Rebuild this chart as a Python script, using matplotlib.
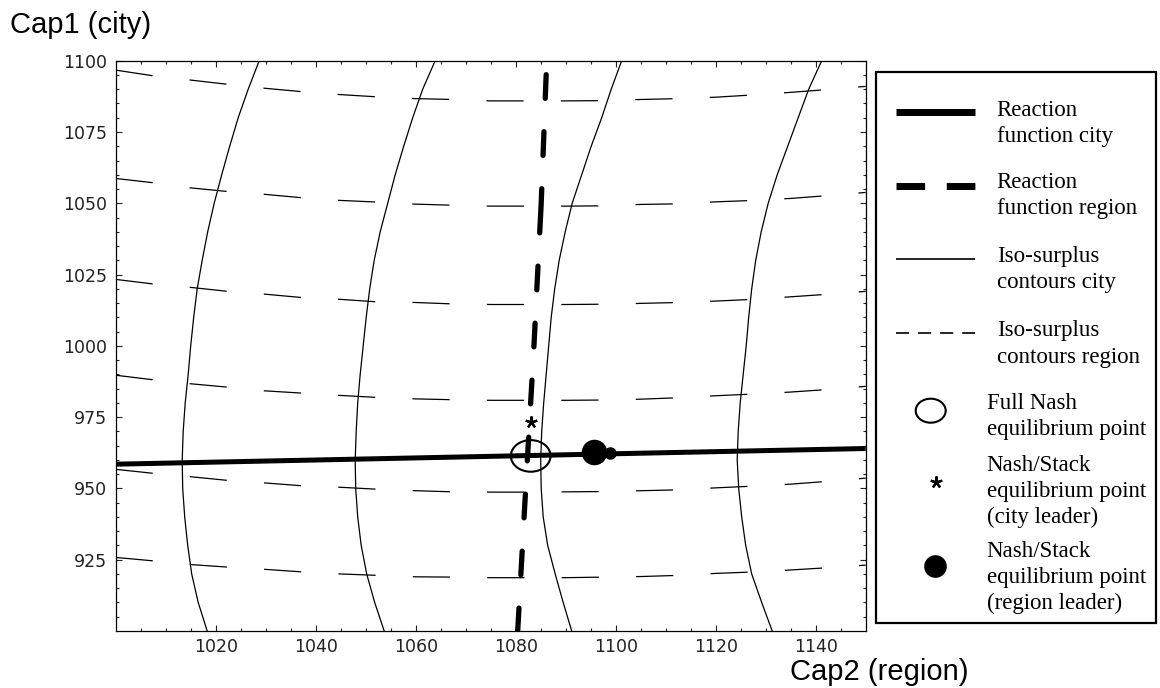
import matplotlib
matplotlib.use("Agg")
import matplotlib.pyplot as plt
from matplotlib.patches import Ellipse, Rectangle

plt.rcParams['lines.scale_dashes'] = False
plt.rcParams['font.family'] = ['DejaVu Sans']

# ---------------- data (Cap2 = x, Cap1 = y) ----------------
city_reaction_cap2 = [1000, 1150]
city_reaction_cap1 = [958.5, 964.0]

region_reaction_cap1 = [900, 950, 1000, 1050, 1100]
region_reaction_cap2 = [1080.4, 1082.0, 1083.65, 1085.1, 1086.2]

# iso-surplus contours of the city (solid thin), read at Cap1 levels
city_c_cap1 = [1100, 1090, 1080, 1070, 1060, 1050, 1040, 1030, 1020, 1010, 1000,
               990, 980, 970, 960, 950, 940, 930, 920, 910, 900]
city_c1_cap2 = [1028.7, 1026.5, 1024.5, 1022.8, 1021.2, 1019.7, 1018.4, 1017.3, 1016.3, 1015.6, 1015.0,
                1014.5, 1013.9, 1013.5, 1013.3, 1013.4, 1013.8, 1014.4, 1015.2, 1016.5, 1018.3]
city_c2_cap2 = [1063.9, 1061.4, 1059.4, 1057.6, 1055.9, 1054.4, 1052.9, 1051.7, 1050.8, 1050.1, 1049.5,
                1048.9, 1048.4, 1048.1, 1047.9, 1048.0, 1048.4, 1049.1, 1050.2, 1051.8, 1053.7]
city_c3_cap2 = [1101.2, 1099.1, 1097.2, 1095.1, 1093.2, 1091.3, 1089.9, 1088.7, 1087.8, 1087.1, 1086.6,
                1086.1, 1085.6, 1085.2, 1085.0, 1085.1, 1085.5, 1086.4, 1087.9, 1089.5, 1091.2]
city_c4_cap2 = [1141.2, 1138.6, 1136.5, 1134.4, 1132.3, 1130.5, 1129.1, 1128.0, 1127.2, 1126.6, 1126.1,
                1125.5, 1124.9, 1124.5, 1124.3, 1124.6, 1125.2, 1126.0, 1127.2, 1129.2, 1131.3]

# iso-surplus contours of the region (dashed thin), read at Cap2 positions
region_c_cap2 = [1000, 1007.5, 1015, 1022.5, 1030, 1037.5, 1045, 1052.5, 1060, 1067.5, 1075,
                 1082.5, 1090, 1097.5, 1105, 1112.5, 1120, 1127.5, 1135, 1142.5, 1150]
region_c1_cap1 = [1096.7, 1094.7, 1093.2, 1091.7, 1090.3, 1089.1, 1088.1, 1087.3, 1086.7, 1086.4,
                  1085.9, 1085.9, 1085.9, 1086.0, 1086.4, 1086.7, 1087.2, 1088.0, 1088.9, 1089.9, 1091.0]
region_c2_cap1 = [1058.7, 1057.2, 1055.4, 1054.1, 1053.1, 1051.9, 1051.0, 1050.4, 1049.7, 1049.3,
                  1049.0, 1049.0, 1049.0, 1049.1, 1049.6, 1049.8, 1050.5, 1051.0, 1051.7, 1052.7, 1053.8]
region_c3_cap1 = [1023.3, 1021.7, 1020.5, 1019.1, 1018.1, 1016.9, 1016.3, 1015.4, 1015.2, 1014.7,
                  1014.5, 1014.5, 1014.5, 1014.6, 1014.9, 1015.2, 1015.7, 1016.3, 1017.2, 1018.1, 1019.1]
region_c4_cap1 = [989.7, 988.1, 986.7, 985.5, 984.2, 983.4, 982.6, 981.9, 981.4, 981.1,
                  980.9, 980.9, 980.9, 981.0, 981.3, 981.8, 982.5, 983.1, 983.8, 984.7, 985.8]
region_c5_cap1 = [956.7, 955.3, 954.1, 952.8, 951.9, 950.9, 950.4, 949.7, 949.2, 948.8,
                  948.7, 948.7, 948.8, 948.9, 949.2, 949.5, 950.2, 950.8, 951.5, 952.5, 953.6]
region_c6_cap1 = [925.8, 924.6, 923.3, 922.4, 921.6, 920.7, 920.0, 919.5, 919.0, 918.9,
                  918.7, 918.7, 918.7, 918.9, 919.1, 919.5, 920.2, 920.7, 921.4, 922.2, 923.1]

full_nash_cap2, full_nash_cap1 = 1083.0, 961.4
city_leader_cap2, city_leader_cap1 = 1083.1, 973.4
region_leader_cap2 = [1095.6, 1098.8]
region_leader_cap1 = [962.7, 962.4]

x_major = [1020, 1040, 1060, 1080, 1100, 1120, 1140]
y_major = [925, 950, 975, 1000, 1025, 1050, 1075, 1100]

legend_labels = [
    ["Reaction", "function city"],
    ["Reaction", "function region"],
    ["Iso-surplus", "contours city"],
    ["Iso-surplus", "contours region"],
    ["Full Nash", "equilibrium point"],
    ["Nash/Stack", "equilibrium point", "(city leader)"],
    ["Nash/Stack", "equilibrium point", "(region leader)"],
]

# ---------------- figure ----------------
W, H = 1160, 688
fig = plt.figure(figsize=(W / 100, H / 100), dpi=100)
ax = fig.add_axes([115.7 / W, 1 - 631 / H, (865.7 - 115.7) / W, (631 - 60.7) / H])

thin = 0.9
region_dash = (0, (26.8, 26.8))
for ys in [region_c1_cap1, region_c2_cap1, region_c3_cap1, region_c4_cap1, region_c5_cap1, region_c6_cap1]:
    ax.plot(region_c_cap2, ys, color='black', lw=thin, linestyle=region_dash,
            dash_capstyle='butt', zorder=2)

for xs in [city_c1_cap2, city_c2_cap2, city_c3_cap2, city_c4_cap2]:
    ax.plot(xs, city_c_cap1, color='black', lw=thin, zorder=2, solid_joinstyle='round')

ax.plot(city_reaction_cap2, city_reaction_cap1, color='black', lw=3.6,
        solid_capstyle='butt', zorder=3)

ax.add_patch(Ellipse((full_nash_cap2, full_nash_cap1), width=7.94, height=11.08,
                     fill=False, edgecolor='black', lw=1.5, zorder=4))

reg_dash = (0.6, [17.1, 24.0] * 7 + [31.8, 24.0] + [17.1, 24.0] * 3)
ax.plot(region_reaction_cap2, region_reaction_cap1, color='black', lw=3.8,
        linestyle=reg_dash, dash_capstyle='round', zorder=5)

ax.plot([city_leader_cap2], [city_leader_cap1], linestyle='none', marker=(5, 2, 0),
        ms=8.6, mew=1.6, color='black', zorder=6)
ax.plot(region_leader_cap2[:1], region_leader_cap1[:1], linestyle='none', marker='o',
        ms=18.4, color='black', mew=0, zorder=6)
ax.plot(region_leader_cap2[1:], region_leader_cap1[1:], linestyle='none', marker='o',
        ms=9.0, color='black', mew=0, zorder=6)

ax.set_xlim(1000, 1150)
ax.set_ylim(900, 1100)
ax.set_xticks(x_major)
ax.set_xticks(list(range(1005, 1150, 5)), minor=True)
ax.set_yticks(y_major)
ax.set_yticks(list(range(905, 1100, 5)), minor=True)
ax.tick_params(which='both', direction='in', top=True, right=True, width=0.8, color='#222222')
ax.tick_params(which='major', length=4.0)
ax.tick_params(which='minor', length=2.5)
ax.tick_params(axis='x', labelsize=12.5, pad=5, labelcolor='#222222')
ax.tick_params(axis='y', labelsize=12.5, pad=6, labelcolor='#222222')
for s in ax.spines.values():
    s.set_linewidth(0.9)

fig.text(10 / W, 1 - 32.7 / H, "Cap1 (city)", family='Liberation Sans', fontsize=21,
         va='baseline', ha='left')
fig.text(790 / W, 1 - 680 / H, "Cap2 (region)", family='Liberation Sans', fontsize=21,
         va='baseline', ha='left')

# ---------------- legend (drawn in pixel space) ----------------
lax = fig.add_axes([0, 0, 1, 1], zorder=10)
lax.set_xlim(0, W)
lax.set_ylim(H, 0)
lax.axis('off')
lax.patch.set_alpha(0)

lax.add_patch(Rectangle((875.7, 71.7), 1156 - 875.7, 623 - 71.7, fill=False,
                        edgecolor='black', lw=1.6))
lx0, lx1 = 895.7, 975
lax.plot([lx0, lx1], [112.3, 112.3], color='black', lw=5, solid_capstyle='butt')
lax.plot([lx0, lx1], [185.7, 185.7], color='black', lw=5, linestyle=(0, (20.6, 15.6)),
         dash_capstyle='butt')
lax.plot([lx0, lx1], [259, 259], color='black', lw=1.2, solid_capstyle='butt')
lax.plot([lx0, lx1], [332.7, 332.7], color='black', lw=1.2, linestyle=(0, (9.4, 6.5)),
         dash_capstyle='butt')
lax.add_patch(Ellipse((930.7, 410.7), width=30, height=24, fill=False, edgecolor='black', lw=1.5))
lax.plot([936], [481.7], linestyle='none', marker=(5, 2, 0), ms=8.6, mew=1.6, color='black')
lax.plot([935.3], [565.7], linestyle='none', marker='o', ms=16.3, mew=0, color='black')

baselines = [
    [115.7, 141.7],
    [188.3, 214.3],
    [262.3, 288.3],
    [336.0, 362.7],
    [409.3, 435.0],
    [470.7, 496.7, 523.3],
    [557.3, 583.3, 609.3],
]
text_x = [996.7, 996.7, 996.7, 996.7, 986.7, 986.7, 986.7]
for lines, bls, tx in zip(legend_labels, baselines, text_x):
    for t, b in zip(lines, bls):
        lax.text(tx, b, t, family='Liberation Serif', fontsize=16.5, va='baseline', ha='left')

fig.savefig("out.png", dpi=100)
